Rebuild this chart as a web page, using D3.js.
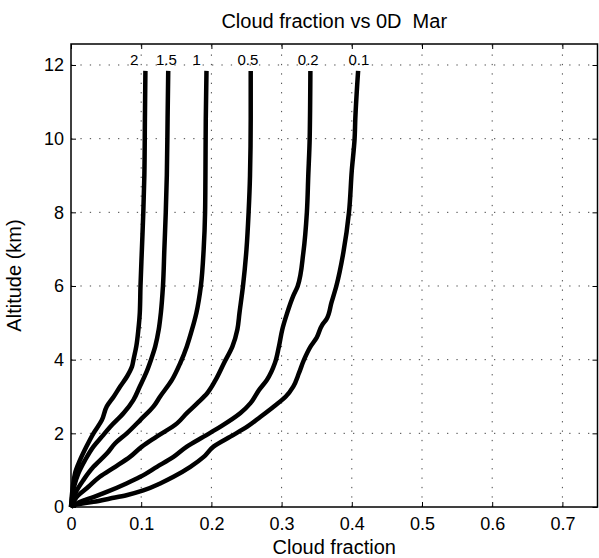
<!DOCTYPE html>
<html><head><meta charset="utf-8">
<script src="https://cdn.jsdelivr.net/npm/d3@7"></script>
<style>body{margin:0;background:#fff}svg{display:block}text{font-family:"Liberation Sans",Arial,sans-serif;fill:#000}</style>
</head><body><div id="chart"></div>
<script>
// ---- data (cloud fraction vs altitude, km) ----
const seriesNames = ["2", "1.5", "1", "0.5", "0.2", "0.1"];
const cf_2   = [0,0.0057,0.0128,0.022,0.032,0.044,0.051,0.061,0.07,0.08,0.087,0.089,0.093,0.096,0.098,0.099,0.101,0.103,0.1045,0.1053,0.106];
const alt_2  = [0,0.91,1.27,1.64,2.0,2.36,2.73,3.0,3.27,3.55,3.82,4.0,4.36,4.82,5.27,6.0,7.0,8.0,9.0,10.54,11.84];
const cf_15  = [0,0.0043,0.0105,0.02,0.032,0.044,0.056,0.075,0.089,0.098,0.107,0.114,0.12,0.125,0.128,0.131,0.133,0.135,0.1365,0.1376,0.1385];
const alt_15 = [0,0.55,0.91,1.27,1.64,1.91,2.18,2.55,2.91,3.27,3.64,4.0,4.36,4.82,5.27,6.0,7.0,8.0,9.0,10.54,11.84];
const cf_1   = [0,0.0057,0.0176,0.032,0.051,0.063,0.0795,0.0986,0.1176,0.127,0.1438,0.1557,0.165,0.1724,0.1786,0.185,0.189,0.191,0.1915,0.192,0.193];
const alt_1  = [0,0.36,0.73,1.09,1.45,1.73,2.0,2.36,2.73,3.0,3.45,3.91,4.36,4.82,5.27,6.0,7.0,8.0,9.0,10.54,11.84];
const cf_05  = [0,0.008,0.0248,0.041,0.063,0.084,0.101,0.122,0.151,0.165,0.18,0.194,0.206,0.218,0.23,0.237,0.24,0.245,0.25,0.253,0.255,0.256,0.256];
const alt_05 = [0,0.27,0.55,0.82,1.09,1.36,1.64,1.91,2.27,2.55,2.82,3.09,3.45,3.91,4.36,4.82,5.27,6.0,7.0,8.0,9.0,10.54,11.84];
const cf_02  = [0,0.0129,0.032,0.051,0.079,0.0986,0.1224,0.146,0.165,0.189,0.213,0.2414,0.2557,0.268,0.279,0.2905,0.2962,0.301,0.308,0.3166,0.323,0.331,0.336,0.338,0.34,0.341];
const alt_02 = [0,0.14,0.27,0.41,0.64,0.82,1.09,1.36,1.64,1.91,2.18,2.55,2.82,3.18,3.45,3.91,4.36,4.82,5.27,5.73,6.0,6.91,8.0,9.0,10.0,11.84];
const cf_01  = [0,0.0033,0.0319,0.0557,0.079,0.103,0.127,0.146,0.17,0.189,0.203,0.227,0.251,0.27,0.289,0.306,0.3166,0.3248,0.332,0.3414,0.35,0.358,0.364,0.371,0.378,0.388,0.396,0.4,0.404,0.405,0.409];
const alt_01 = [0,0.045,0.14,0.23,0.32,0.45,0.64,0.82,1.09,1.36,1.64,1.91,2.18,2.45,2.73,3.0,3.27,3.64,4.0,4.36,4.6,4.95,5.1,5.55,6.0,6.91,8.0,9.14,10.0,10.54,11.84];
const labelX = [0.090, 0.136, 0.179, 0.252, 0.338, 0.410];
const labelAlt = 12.0;
const xTicks = [0, 0.1, 0.2, 0.3, 0.4, 0.5, 0.6, 0.7];
const yTicks = [0, 2, 4, 6, 8, 10, 12];
const xDomain = [0, 0.75];
const yDomain = [0, 12.57];
const titleText = "Cloud fraction vs 0D  Mar";
const xLabel = "Cloud fraction";
const yLabel = "Altitude (km)";

const seriesCF = [cf_2, cf_15, cf_1, cf_05, cf_02, cf_01];
const seriesAlt = [alt_2, alt_15, alt_1, alt_05, alt_02, alt_01];

// ---- layout ----
const W = 599, H = 558;
const m = {left: 71, top: 44, right: 1.5, bottom: 51};
const iw = W - m.left - m.right, ih = H - m.top - m.bottom;

const svg = d3.select("#chart").append("svg").attr("width", W).attr("height", H);
const g = svg.append("g").attr("transform", `translate(${m.left},${m.top})`);

const x = d3.scaleLinear().domain(xDomain).range([0, iw]);
const y = d3.scaleLinear().domain(yDomain).range([ih, 0]);

// grid
const gridStyle = s => s.attr("stroke", "#444").attr("stroke-width", 1).attr("stroke-dasharray", "1.3,8.1");
g.append("g").selectAll("line").data(xTicks.slice(1)).join("line")
  .attr("x1", d => x(d)).attr("x2", d => x(d)).attr("y1", ih).attr("y2", 0).call(gridStyle);
g.append("g").selectAll("line").data(yTicks.slice(1)).join("line")
  .attr("x1", 0).attr("x2", iw).attr("y1", d => y(d)).attr("y2", d => y(d)).call(gridStyle);

// axes
const fs = 18;
const xAxis = g.append("g").attr("transform", `translate(0,${ih})`)
  .call(d3.axisBottom(x).tickValues(xTicks).tickSize(-5).tickPadding(10).tickFormat(d3.format("~g")));
const xAxisTop = g.append("g")
  .call(d3.axisTop(x).tickValues(xTicks).tickSize(-5).tickFormat(""));
const yAxis = g.append("g")
  .call(d3.axisLeft(y).tickValues(yTicks).tickSize(-5).tickPadding(7).tickFormat(d3.format("~g")));
const yAxisR = g.append("g").attr("transform", `translate(${iw},0)`)
  .call(d3.axisRight(y).tickValues(yTicks).tickSize(-5).tickFormat(""));
[xAxis, xAxisTop, yAxis, yAxisR].forEach(a => {
  a.select(".domain").remove();
  a.selectAll("line").attr("stroke", "#000").attr("stroke-width", 1);
  a.selectAll("text").attr("font-size", fs).attr("font-family", '"Liberation Sans",Arial,sans-serif').attr("fill", "#000");
});
// box
g.append("rect").attr("x", 0).attr("y", 0).attr("width", iw).attr("height", ih)
  .attr("fill", "none").attr("stroke", "#000").attr("stroke-width", 1.5);

// curves
const line = d3.line().x(d => x(d[0])).y(d => y(d[1])).curve(d3.curveMonotoneY);
g.append("g").selectAll("path").data(seriesCF.map((cf, i) => cf.map((v, j) => [v, seriesAlt[i][j]]))).join("path")
  .attr("d", line).attr("fill", "none").attr("stroke", "#000").attr("stroke-width", 4.5)
  .attr("stroke-linejoin", "round").attr("stroke-linecap", "butt");

// curve labels
g.append("g").selectAll("text").data(seriesNames).join("text")
  .attr("x", (d, i) => x(labelX[i])).attr("y", y(labelAlt))
  .attr("text-anchor", "middle").attr("font-size", 15).text(d => d);

// titles
svg.append("text").attr("x", m.left + iw / 2).attr("y", 28).attr("text-anchor", "middle")
  .attr("font-size", 20).style("white-space", "pre").text(titleText);
svg.append("text").attr("x", m.left + iw / 2).attr("y", 554).attr("text-anchor", "middle")
  .attr("font-size", 20).text(xLabel);
svg.append("text").attr("transform", `translate(21,${m.top + ih / 2}) rotate(-90)`)
  .attr("text-anchor", "middle").attr("font-size", 20).text(yLabel);
</script></body></html>
